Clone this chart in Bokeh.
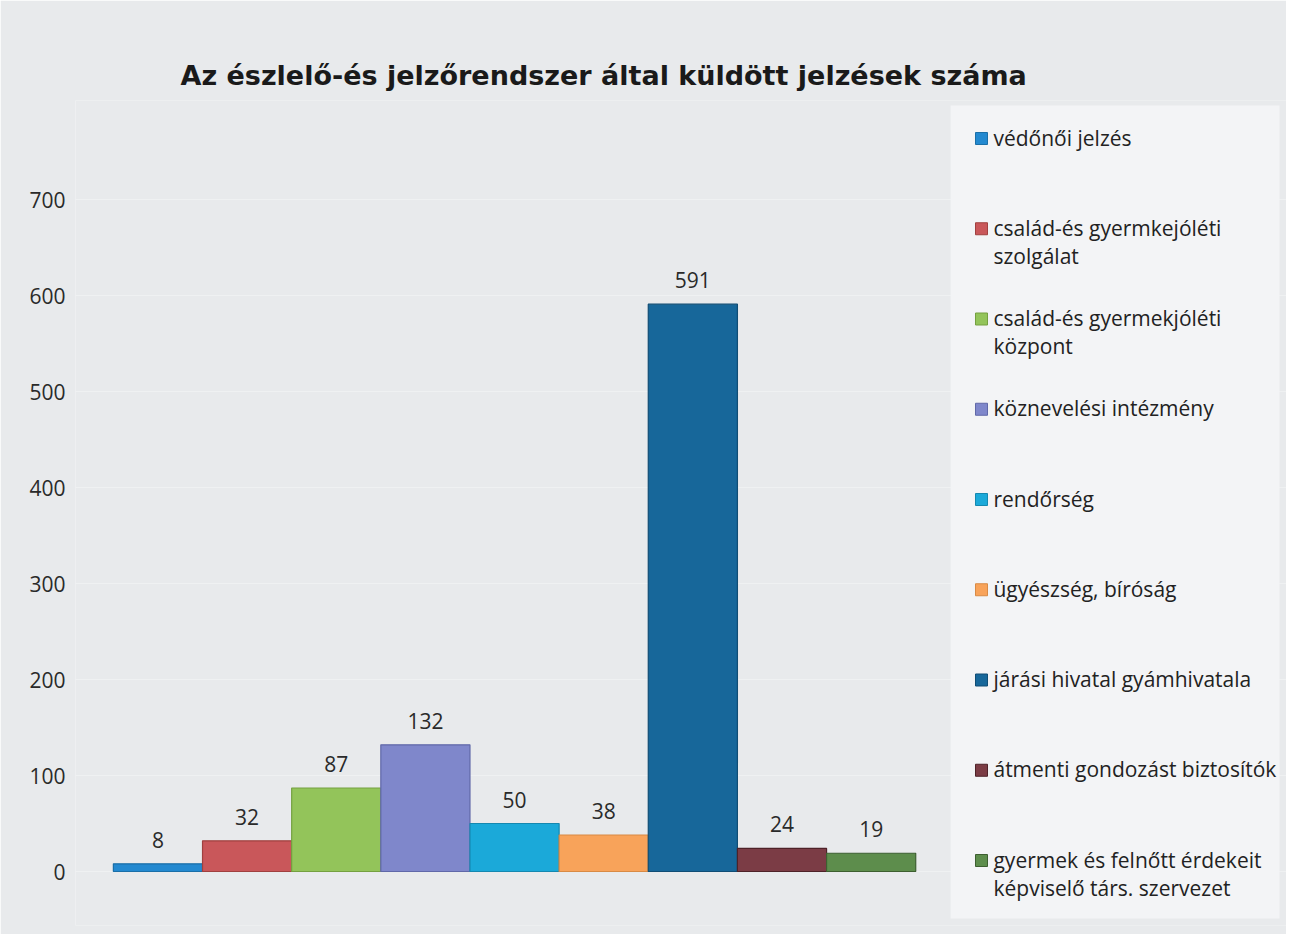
from bokeh.plotting import figure
from bokeh.models import Range1d, FixedTicker
from bokeh.core.properties import value
from bokeh.embed import file_html
from bokeh.resources import INLINE

# ---- data ----
categories = [
    "védőnői jelzés",
    "család-és gyermkejóléti\nszolgálat",
    "család-és gyermekjóléti\nközpont",
    "köznevelési intézmény",
    "rendőrség",
    "ügyészség, bíróság",
    "járási hivatal gyámhivatala",
    "átmenti gondozást biztosítók",
    "gyermek és felnőtt érdekeit\nképviselő társ. szervezet",
]
values = [8, 32, 87, 132, 50, 38, 591, 24, 19]
colors = ["#2389d0", "#c9575a", "#93c45a", "#7f87cb", "#1ba9d9",
          "#f8a35a", "#17679a", "#7b3c45", "#5d8d4c"]
edge_colors = ["#1a6fa8", "#a0403f", "#74a040", "#6068a8", "#1588b0",
               "#d88a45", "#104d75", "#4e2228", "#3d5f30"]
y_ticks = [0, 100, 200, 300, 400, 500, 600, 700]
title_text = "Az észlelő-és jelzőrendszer által küldött jelzések száma"

# ---- layout helpers (reference pixel -> data) ----
BAR_LEFT_PX = 113.0
BAR_PX = 805.0 / 9.0
ZERO_PX = 871.0
Y_PX = 0.96

def xpx(px):
    return (px - BAR_LEFT_PX) / BAR_PX

def ypx(py):
    return (ZERO_PX - py) / Y_PX

FL, FR, FT, FB = 75, 1290, 100, 925
W, H = 1286, 934

p = figure(width=W, height=H, output_backend="svg", toolbar_location=None,
           x_range=Range1d(xpx(FL), xpx(FR)), y_range=Range1d(ypx(FB), ypx(FT)),
           min_border_left=FL, min_border_right=0,
           min_border_top=FT, min_border_bottom=H - FB)

bg = "#e8eaec"
p.background_fill_color = bg
p.border_fill_color = bg
p.outline_line_color = None

p.title.text = title_text
p.title.text_font = "DejaVu Sans"
p.title.text_font_size = "27px"
p.title.text_font_style = "bold"
p.title.text_color = "#1a1a1a"
p.title.align = "left"
p.title.offset = 180 - FL
p.title.standoff = 19

p.xaxis.visible = False
p.xgrid.visible = False
p.ygrid.ticker = FixedTicker(ticks=y_ticks)
p.ygrid.grid_line_color = "#f4f5f6"
p.ygrid.grid_line_alpha = 0.6

ax = p.yaxis[0]
ax.ticker = FixedTicker(ticks=y_ticks)
ax.axis_line_color = None
ax.major_tick_line_color = None
ax.minor_tick_line_color = None
ax.major_label_text_font = "Open Sans"
ax.major_label_text_font_size = "21px"
ax.major_label_text_color = "#2a2a2a"
ax.major_label_standoff = 4

# bars
centers = [i + 0.5 for i in range(len(values))]
p.vbar(x=centers, top=values, bottom=0, width=1.0,
       fill_color=colors, line_color=edge_colors, line_width=1.2)

# value labels
p.text(x=centers, y=values, text=[str(v) for v in values],
       text_font=value("Open Sans"), text_font_size="21px", text_color="#2a2a2a",
       text_align="center", text_baseline="middle", y_offset=-24)

# legend box
p.quad(left=[xpx(953)], right=[xpx(1283)], top=[ypx(105)], bottom=[ypx(918)],
       fill_color="#f3f4f6", line_color=None)

n = len(categories)
leg_y = [ypx(138 + 90.25 * i) for i in range(n)]
p.rect(x=[xpx(984)] * n, y=leg_y, width=12, height=12,
       width_units="screen", height_units="screen",
       fill_color=colors, line_color=edge_colors, line_width=1)
p.text(x=[xpx(996)] * n, y=leg_y, text=categories,
       text_font=value("Open Sans"), text_font_size="21px", text_color="#222222",
       text_align="left", text_baseline="top", text_line_height=1.0, y_offset=-15)

open("out.html", "w").write(file_html(p, INLINE))
